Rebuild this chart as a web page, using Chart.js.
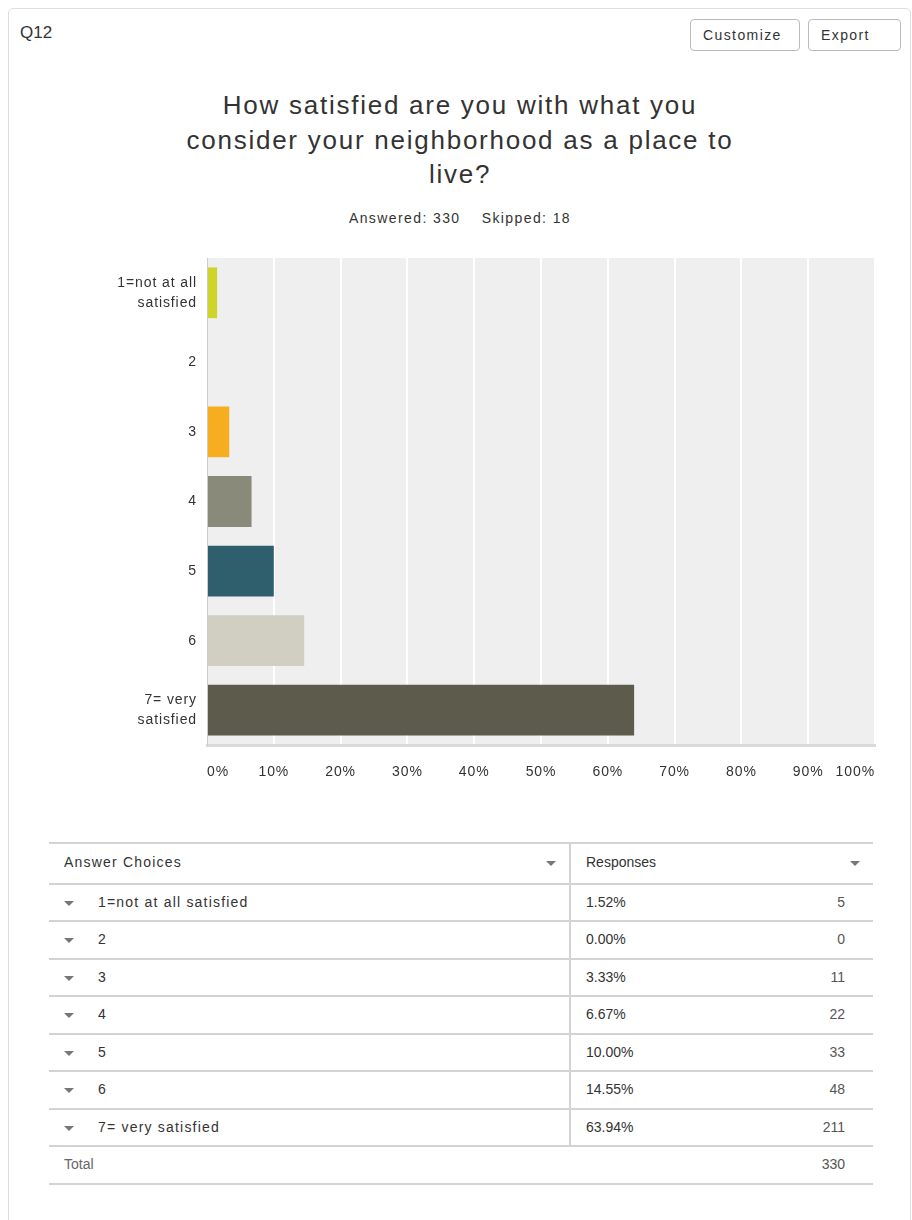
<!DOCTYPE html>
<html>
<head>
<meta charset="utf-8">
<title>Q12</title>
<script src="https://cdn.jsdelivr.net/npm/chart.js@4.4.0/dist/chart.umd.min.js"></script>
<style>
  body { margin: 0; background: #fff; font-family: 'Liberation Sans', Arial, sans-serif; color: #333; }
  #card { position: absolute; left: 8px; top: 8px; width: 901px; height: 1240px; border: 1px solid #ddd; border-radius: 5px; }
  #qnum { position: absolute; left: 20px; top: 23px; font-size: 17px; color: #333; }
  .btn { position: absolute; top: 19px; height: 30px; border: 1px solid #bbb; border-radius: 4px; padding-left: 12px;
         box-sizing: border-box; height: 32px; font-size: 14px; line-height: 30px; letter-spacing: 1.4px; color: #333; }
  #title { position: absolute; left: 110px; width: 700px; top: 88px; text-align: center;
           font-size: 26px; line-height: 34.5px; letter-spacing: 1.75px; color: #333; }
  #stats { position: absolute; left: 160px; width: 600px; top: 210px; text-align: center;
           font-size: 14px; letter-spacing: 1.4px; color: #333; }
  #chartBox { position: absolute; left: 8px; top: 250px; width: 890px; height: 550px; }
  #table { position: absolute; left: 49px; top: 842px; width: 824px; }
  .line { position: absolute; left: 0; width: 824px; height: 2px; background: #d3d3d3; }
  .cell { position: absolute; font-size: 14px; color: #333; white-space: nowrap; }
  .name { letter-spacing: 1.2px; }
  .tri { position: absolute; width: 0; height: 0; border-left: 5px solid transparent;
         border-right: 5px solid transparent; border-top: 5px solid #777; }
</style>
</head>
<body>
<div id="card"></div>
<div id="qnum">Q12</div>
<div class="btn" style="left:690px;width:110px;">Customize</div>
<div class="btn" style="left:808px;width:93px;">Export</div>
<div id="title">How satisfied are you with what you<br>consider your neighborhood as a place to<br>live?</div>
<div id="stats">Answered: 330&nbsp;&nbsp;&nbsp; Skipped: 18</div>
<div id="chartBox"><canvas id="myChart"></canvas></div>
<div id="table"></div>
<script>
'use strict'
// answer choices, as shown on the axis and in the table
const axisLabels = [['1=not at all', 'satisfied'], '2', '3', '4', '5', '6', ['7= very', 'satisfied']];
const choiceNames = ['1=not at all satisfied', '2', '3', '4', '5', '6', '7= very satisfied'];
const percents = [1.52, 0.00, 3.33, 6.67, 10.00, 14.55, 63.94];
const counts = [5, 0, 11, 22, 33, 48, 211];
const totalCount = 330;
const barColors = ['#cfd42a', '#6bbcc4', '#f6ae20', '#8a8a7a', '#2f5f6c', '#d0cfc1', '#5d5b4b'];
const xTickStep = 10;

// grey plot background behind the bars, and the wider letter spacing of the labels
const plotBg = {
  id: 'plotBg',
  beforeInit(chart) {
    chart.ctx.letterSpacing = '0.9px';
  },
  beforeDraw(chart) {
    const { ctx, chartArea: a } = chart;
    ctx.letterSpacing = '0.9px';
    ctx.save();
    ctx.fillStyle = '#efefef';
    ctx.fillRect(a.left, a.top, a.width, a.height);
    ctx.restore();
  }
};

const ctx = document.getElementById('myChart').getContext('2d');
const myChart = new Chart(ctx, {
  type: 'bar',
  data: {
    labels: axisLabels,
    datasets: [{
      data: percents,
      backgroundColor: barColors,
      borderWidth: 0,
      barPercentage: 0.73,
      categoryPercentage: 1
    }]
  },
  options: {
    indexAxis: 'y',
    responsive: true,
    maintainAspectRatio: false,
    animation: false,
    layout: { padding: { top: 8, right: 23, left: 0, bottom: 0 } },
    plugins: { legend: { display: false }, tooltip: { enabled: false } },
    scales: {
      x: {
        min: 0,
        max: 100,
        ticks: {
          stepSize: xTickStep,
          align: 'inner',
          padding: 19,
          color: '#333',
          font: { family: "'Liberation Sans', Arial, sans-serif", size: 14 },
          callback: v => v + '%'
        },
        grid: { color: '#ffffff', lineWidth: 2, drawTicks: false },
        border: { color: '#dadada', width: 3 },
        afterFit: scale => {
          scale.height = 55;
          scale.paddingLeft = 0;
          scale.paddingRight = 0;
        }
      },
      y: {
        ticks: {
          padding: 10,
          color: '#333',
          font: { family: "'Liberation Sans', Arial, sans-serif", size: 14, lineHeight: 1.43 }
        },
        grid: { display: false, drawTicks: false },
        border: { color: '#cccccc', width: 1 },
        afterFit: scale => {
          scale.width = 199;
          scale.paddingTop = 0;
          scale.paddingBottom = 0;
        }
      }
    }
  },
  plugins: [plotBg]
});

// responses table
const table = document.getElementById('table');
function addLine(y) {
  let d = document.createElement('div');
  d.className = 'line';
  d.style.top = y + 'px';
  table.appendChild(d);
}
function addCell(text, x, y, opts) {
  let d = document.createElement('div');
  d.className = 'cell';
  d.textContent = text;
  d.style.top = (y - 9) + 'px';
  if (opts && opts.right) {
    d.style.right = (824 - x) + 'px';
  } else {
    d.style.left = x + 'px';
  }
  if (opts && opts.color) d.style.color = opts.color;
  if (opts && opts.cls) d.classList.add(opts.cls);
  table.appendChild(d);
}
function addTri(x, y) {
  let d = document.createElement('div');
  d.className = 'tri';
  d.style.left = (x - 5) + 'px';
  d.style.top = (y - 2) + 'px';
  table.appendChild(d);
}

const headerH = 41;
const rowH = 37.5;
let rowTops = [0, headerH];
for (let i = 0; i < choiceNames.length + 1; i++) {
  rowTops.push(headerH + rowH * (i + 1));
}
rowTops.forEach(y => addLine(Math.floor(y)));

let divider = document.createElement('div');
divider.style.cssText = 'position:absolute;left:520px;top:0;width:2px;background:#d3d3d3;';
divider.style.height = Math.round(headerH + rowH * choiceNames.length) + 'px';
table.appendChild(divider);

addCell('Answer Choices', 15, 21, { cls: 'name' });
addTri(502, 21);
addCell('Responses', 537, 21);
addTri(806, 21);

for (let i = 0; i < choiceNames.length; i++) {
  let cy = Math.round(headerH + rowH * i + rowH / 2 + 1);
  addTri(20, cy);
  addCell(choiceNames[i], 49, cy, { cls: 'name' });
  addCell(percents[i].toFixed(2) + '%', 537, cy);
  addCell(String(counts[i]), 796, cy, { right: true, color: '#555' });
}
let ty = Math.round(headerH + rowH * choiceNames.length + rowH / 2 + 1);
addCell('Total', 15, ty, { color: '#666' });
addCell(String(totalCount), 796, ty, { right: true, color: '#555' });
</script>
</body>
</html>
